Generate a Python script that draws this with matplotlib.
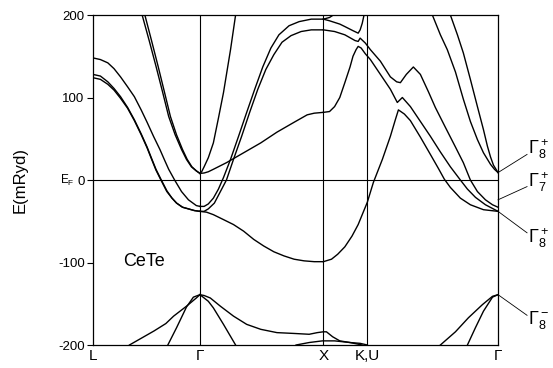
import matplotlib
matplotlib.use('Agg')
import matplotlib.pyplot as plt

plt.rcParams['font.family'] = ['Liberation Sans', 'DejaVu Sans']
plt.rcParams['mathtext.fontset'] = 'custom'
plt.rcParams['mathtext.rm'] = 'Liberation Sans'
plt.rcParams['mathtext.it'] = 'Liberation Sans'

# symmetry points along the path (k in units of 2pi/a)
k_ticks = [0.0, 0.866, 1.866, 2.220, 3.281]
k_labels = ['L', '\u0393', 'X', 'K,U', '\u0393']

e_ticks = [200, 100, 0, -100, -200]
e_labels = ['200', '100', '0', '-100', '-200']

# L - Gamma
k_l1 = [0, 0.06, 0.120, 0.170, 0.223, 0.280, 0.335, 0.390, 0.438, 0.490, 0.542, 0.580, 0.613,
        0.661, 0.717, 0.773, 0.837, 0.866]
e_l1 = [148, 146, 142, 135, 125, 113, 101, 85, 70, 53, 37, 24, 13, 0, -14, -24, -31, -32]
k_l2 = [0, 0.06, 0.120, 0.170, 0.223, 0.280, 0.335, 0.390, 0.438, 0.475, 0.510, 0.550, 0.598,
        0.640, 0.677, 0.725, 0.773, 0.820, 0.866]
e_l2 = [128, 126, 119, 111, 101, 88, 73, 56, 40, 26, 13, 1, -13, -22, -28, -33, -35, -37, -38]
e_l2b = [124, 122, 116, 109, 99, 87, 72, 55, 39, 25, 12, 0, -14, -22, -28, -33, -35, -37, -38]
k_l3a = [0.398, 0.455, 0.510, 0.563, 0.613, 0.665, 0.717, 0.757, 0.797, 0.837, 0.866]
k_l3b = [0.420, 0.474, 0.527, 0.578, 0.627, 0.676, 0.725, 0.763, 0.801, 0.838, 0.866]
e_l3 = [200, 169, 138, 107, 77, 55, 37, 25, 16, 11, 8]

# Gamma - X
k_g1 = [0.866, 0.900, 0.934, 0.975, 1.016, 1.057, 1.114, 1.179, 1.245, 1.310, 1.375, 1.441,
        1.506, 1.588, 1.670, 1.768, 1.866]
e_g1 = [-32, -32, -29, -22, -11, 3, 25, 53, 82, 110, 137, 160, 176, 187, 192, 195, 195]
k_g2 = [0.866, 0.900, 0.934, 0.983, 1.032, 1.081, 1.138, 1.204, 1.269, 1.335, 1.400, 1.465,
        1.531, 1.604, 1.686, 1.768, 1.866]
e_g2 = [-38, -38, -35, -28, -14, 0, 25, 53, 82, 110, 134, 152, 167, 175, 180, 182, 182]
k_g3 = [0.866, 0.920, 0.975, 1.057, 1.138, 1.220, 1.302, 1.383, 1.465, 1.547, 1.629, 1.710,
        1.792, 1.866]
e_g3 = [-38, -39, -42, -48, -54, -62, -72, -80, -87, -92, -96, -98, -99, -99]
k_g4 = [0.866, 0.900, 0.934, 0.975, 1.081, 1.220, 1.359, 1.490, 1.629, 1.735, 1.792, 1.866]
e_g4 = [8, 8.5, 10, 13, 21, 33, 45, 58, 70, 79, 81, 82]
k_g5 = [0.866, 0.880, 0.900, 0.934, 0.975, 1.016, 1.057, 1.114, 1.155]
e_g5 = [8, 10, 16, 27, 45, 75, 106, 158, 200]

# X - K,U - Gamma
k_t1 = [1.866, 1.916, 1.957]
e_t1 = [195, 197, 201]
k_t2 = [1.866, 1.916, 1.999, 2.040, 2.106, 2.148, 2.164, 2.181, 2.197]
e_t2 = [195, 193, 189, 186, 181, 178, 182, 190, 201]
k_a = [1.866, 1.957, 2.040, 2.123, 2.148, 2.164, 2.206, 2.247, 2.328, 2.409, 2.460, 2.490, 2.538,
       2.595, 2.652, 2.717, 2.773, 2.854, 2.936, 3.000, 3.057, 3.114, 3.179, 3.236, 3.281]
e_a = [182, 180, 176, 169, 168, 172, 166, 158, 144, 125, 119, 118, 128,
       137, 128, 107, 88, 64, 40, 21, 0, -14, -24, -30, -33]
k_b = [1.866, 1.916, 1.957, 1.999, 2.040, 2.082, 2.106, 2.131, 2.148, 2.172, 2.206, 2.247, 2.328,
       2.409, 2.465, 2.506, 2.571, 2.652, 2.733, 2.814, 2.895, 2.976, 3.033, 3.098, 3.179, 3.281]
e_b = [82, 83, 89, 100, 118, 137, 150, 158, 162, 160, 153, 146, 128,
       110, 94, 100, 89, 71, 53, 34, 16, 0, -11, -21, -30, -38]
k_c = [1.866, 1.932, 1.982, 2.040, 2.098, 2.148, 2.189, 2.222, 2.271, 2.344, 2.409, 2.449,
       2.474, 2.522, 2.571, 2.652, 2.733, 2.798, 2.846, 2.895, 2.976, 3.057, 3.163, 3.281]
e_c = [-99, -96, -90, -81, -68, -54, -39, -27, -3, 25, 53, 73,
       85, 80, 72, 52, 31, 14, 1, -9, -22, -30, -36, -38]
k_p1 = [2.749, 2.814, 2.870, 2.936, 3.000, 3.057, 3.114, 3.163, 3.220, 3.252, 3.281]
e_p1 = [200, 176, 158, 131, 98, 71, 49, 33, 19, 13, 9]
k_p2 = [2.895, 2.952, 3.000, 3.057, 3.114, 3.163, 3.195, 3.220, 3.244, 3.281]
e_p2 = [200, 176, 154, 122, 89, 61, 41, 28, 18, 9]

# low lying bands
k_v1 = [0.295, 0.494, 0.590, 0.653, 0.757, 0.837, 0.866]
e_v1 = [-200, -183, -174, -165, -153, -143, -139]
k_v2 = [0.606, 0.677, 0.757, 0.813, 0.866]
e_v2 = [-200, -179, -154, -142, -139]
k_v3 = [0.866, 0.900, 0.950, 1.032, 1.138, 1.245, 1.359, 1.490, 1.629, 1.751, 1.817, 1.866,
        1.891, 1.941, 1.999, 2.082, 2.164, 2.222]
e_v3 = [-139, -140, -143, -153, -165, -175, -181, -185, -186, -187, -185, -184,
        -184, -190, -195, -197, -198, -200]
k_v4 = [1.645, 1.751, 1.858, 1.957, 2.082, 2.180]
e_v4 = [-200, -197, -195, -195, -197, -200]
k_v5 = [0.866, 0.934, 0.975, 1.057, 1.155]
e_v5 = [-139, -147, -155, -175, -200]
k_v6 = [2.814, 2.936, 3.041, 3.155, 3.236, 3.281]
e_v6 = [-200, -184, -167, -151, -141, -139]
k_v7 = [3.033, 3.098, 3.163, 3.236, 3.281]
e_v7 = [-200, -179, -159, -142, -139]

bands = [(k_l1, e_l1), (k_l2, e_l2), (k_l2, e_l2b), (k_l3a, e_l3), (k_l3b, e_l3),
         (k_g1, e_g1), (k_g2, e_g2), (k_g3, e_g3), (k_g4, e_g4), (k_g5, e_g5),
         (k_t1, e_t1), (k_t2, e_t2), (k_a, e_a), (k_b, e_b), (k_c, e_c),
         (k_p1, e_p1), (k_p2, e_p2),
         (k_v1, e_v1), (k_v2, e_v2), (k_v3, e_v3), (k_v4, e_v4), (k_v5, e_v5),
         (k_v6, e_v6), (k_v7, e_v7)]

# labels of the states at the right Gamma point
gamma_states = [r'$\Gamma_8^+$', r'$\Gamma_7^+$', r'$\Gamma_8^+$', r'$\Gamma_8^-$']
gamma_energy = [9, -24, -38, -139]
label_energy = [37, -2, -70, -170]

fig = plt.figure(figsize=(5.53, 3.68), dpi=100)
ax = fig.add_axes([0.1682, 0.0625, 0.7324, 0.8967])

for k, e in bands:
    ax.plot(k, e, color='black', lw=1.0)

# symmetry lines and fermi level
for kt in k_ticks[1:-1]:
    ax.axvline(kt, color='black', lw=0.8)
ax.axhline(0, color='black', lw=0.8)

ax.set_xlim(k_ticks[0], k_ticks[-1])
ax.set_ylim(-200, 200)
ax.set_xticks(k_ticks)
ax.set_xticklabels(k_labels, fontsize=11)
ax.tick_params(axis='x', length=0, pad=3)
ax.set_yticks(e_ticks)
ax.set_yticklabels(e_labels, fontsize=9.5)
ax.tick_params(axis='y', direction='out', length=4, width=0.8, pad=2)
for s in ax.spines.values():
    s.set_linewidth(0.9)

ax.set_ylabel('E(mRyd)', fontsize=12, labelpad=22)
ax.text(-0.21, 0, r'E$_\mathrm{F}$', fontsize=8.5, ha='center', va='center')
ax.text(0.24, -99, 'CeTe', fontsize=13, ha='left', va='center')

xr = k_ticks[-1]
for lab, eg, el in zip(gamma_states, gamma_energy, label_energy):
    ax.plot([xr, xr + 0.235], [eg, el + (6 if el < eg else -6)], color='black', lw=0.6,
            clip_on=False)
    ax.text(xr + 0.245, el, lab, fontsize=13, ha='left', va='center')

fig.savefig('out.png', dpi=100)
